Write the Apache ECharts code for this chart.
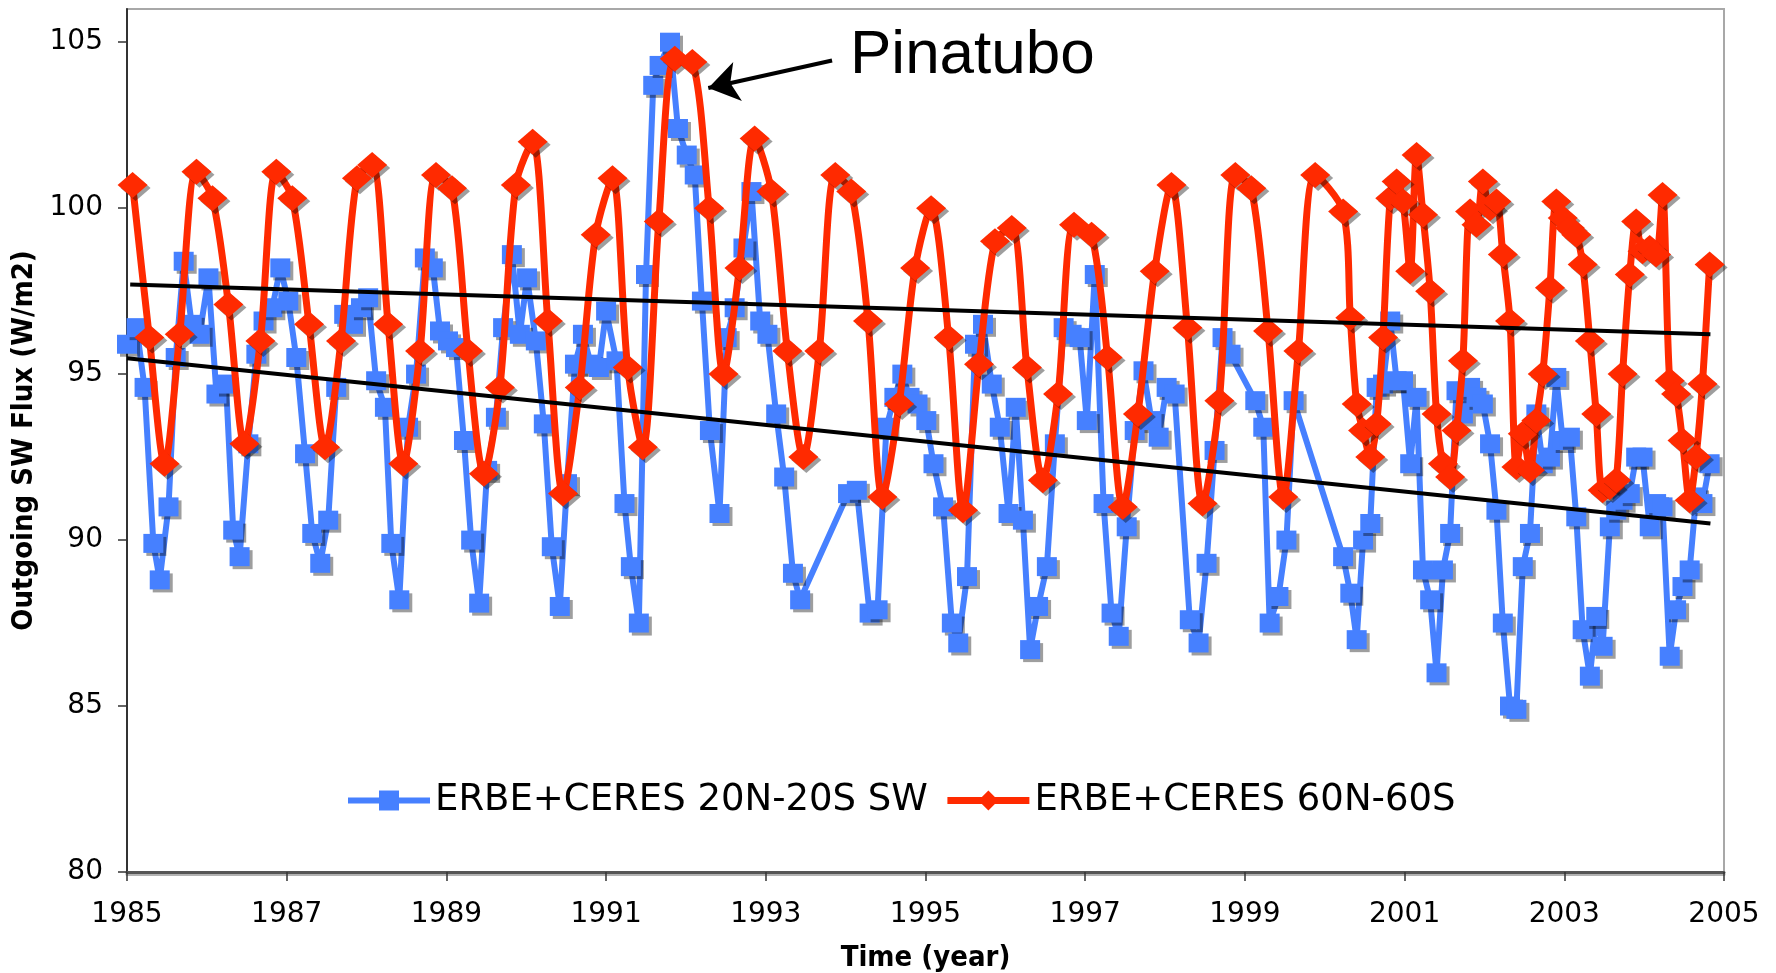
<!DOCTYPE html>
<html><head><meta charset="utf-8">
<script src="https://cdn.jsdelivr.net/npm/echarts@6/dist/echarts.min.js"></script>
<style>html,body{margin:0;padding:0;background:#fff}#c{width:1776px;height:973px}</style>
</head><body><div id="c"></div>
<script>
// ---------- data ----------
const seriesNames = ['ERBE+CERES 20N-20S SW', 'ERBE+CERES 60N-60S'];
const xTicks = [1985, 1987, 1989, 1991, 1993, 1995, 1997, 1999, 2001, 2003, 2005];
const yTicks = [80, 85, 90, 95, 100, 105];
const xName = 'Time (year)';
const yName = 'Outgoing SW Flux (W/m2)';
const annotation = 'Pinatubo';
const arrowFrom = [1993.83, 104.45];
const arrowTo = [1992.28, 103.62];

// ERBE era, 20N-20S (36-day means)
const erbeTropicsYears = [
1985.00,1985.12,1985.22,1985.33,1985.41,1985.52,1985.61,1985.71,1985.81,1985.91,
1986.02,1986.12,1986.24,1986.33,1986.41,1986.52,1986.62,1986.71,1986.82,1986.92,
1987.02,1987.12,1987.23,1987.32,1987.42,1987.52,1987.62,1987.72,1987.83,1987.93,
1988.02,1988.12,1988.23,1988.31,1988.41,1988.52,1988.62,1988.73,1988.83,1988.92,
1989.02,1989.12,1989.22,1989.31,1989.41,1989.51,1989.62,1989.71,1989.82,1989.92,
1990.01,1990.12,1990.22,1990.32,1990.42,1990.51,1990.61,1990.71,1990.81,1990.91,
1991.00,1991.13,1991.23,1991.31,1991.41,1991.50,1991.59,1991.67,1991.80,1991.90,
1992.01,1992.11,1992.20,1992.30,1992.42,1992.51,1992.61,1992.72,1992.82,1992.93,
1993.02,1993.13,1993.23,1993.34,1993.43,
1994.03,1994.14,1994.30,1994.40,1994.51,1994.61,1994.71,1994.80,1994.90,
1995.01,1995.10,1995.22,1995.33,1995.41,1995.52,1995.62,1995.72,1995.83,1995.93,
1996.04,1996.13,1996.22,1996.31,1996.41,1996.52,1996.62,1996.73,1996.83,1996.93,
1997.02,1997.12,1997.23,1997.33,1997.42,1997.52,1997.62,1997.73,1997.83,1997.92,
1998.02,1998.12,1998.31,1998.42,1998.52,1998.62,1998.72,1998.82,
1999.13,1999.23,1999.31,1999.42,1999.52,1999.61];
const erbeTropicsFlux = [
95.9,96.4,94.6,89.9,88.8,91.0,95.5,98.4,96.5,96.2,
97.9,94.4,94.7,90.3,89.5,92.9,95.6,96.6,97.0,98.2,
97.2,95.5,92.6,90.2,89.3,90.6,94.6,96.8,96.5,97.0,
97.3,94.8,94.0,89.9,88.2,93.4,95.0,98.5,98.2,96.3,
96.0,95.8,93.0,90.0,88.1,92.1,93.7,96.4,98.6,96.2,
97.9,96.0,93.5,89.8,88.0,91.7,95.3,96.2,95.3,95.2,
96.9,95.4,91.1,89.2,87.5,98.0,103.7,104.3,105.0,102.4,
101.6,101.0,97.2,93.3,90.8,96.1,97.0,98.8,100.5,96.6,
96.2,93.8,91.9,89.0,88.2,
91.4,91.5,87.8,87.9,93.4,94.3,95.0,94.3,94.1,
93.6,92.3,91.0,87.5,86.9,88.9,95.9,96.5,94.7,93.4,
90.8,94.0,90.6,86.7,88.0,89.2,92.9,96.4,96.2,96.1,
93.6,98.0,91.1,87.8,87.1,90.4,93.3,95.1,93.6,93.1,
94.6,94.4,87.6,86.9,89.3,92.7,96.1,95.6,
94.2,93.4,87.5,88.3,90.0,94.2];

// ERBE era, 60N-60S (72-day means)
const erbeNearGlobalYears = [
1985.07,1985.28,1985.47,1985.66,1985.87,1986.07,1986.27,1986.47,1986.67,1986.87,
1987.07,1987.28,1987.48,1987.68,1987.88,1988.07,1988.27,1988.46,1988.67,1988.87,
1989.07,1989.27,1989.47,1989.67,1989.87,1990.08,1990.27,1990.46,1990.67,1990.87,
1991.08,1991.27,1991.46,1991.66,1991.86,1992.08,1992.29,1992.47,1992.67,1992.86,
1993.07,1993.27,1993.47,1993.67,1993.87,1994.07,1994.28,1994.46,1994.67,1994.87,
1995.07,1995.29,1995.47,1995.67,1995.87,1996.08,1996.27,1996.47,1996.66,1996.86,
1997.08,1997.28,1997.47,1997.66,1997.87,1998.08,1998.28,1998.47,1998.68,1998.88,
1999.08,1999.29,1999.48,1999.67,1999.88];
const erbeNearGlobalFlux = [
100.7,96.1,92.3,96.2,101.1,100.3,97.1,92.9,96.0,101.1,
100.3,96.5,92.8,96.0,100.9,101.3,96.5,92.3,95.7,101.0,
100.6,95.7,92.0,94.6,100.7,102.0,96.6,91.4,94.6,99.2,
100.9,95.2,92.8,99.6,104.5,104.4,100.0,95.0,98.2,102.1,
100.5,95.7,92.5,95.7,101.0,100.5,96.6,91.3,94.1,98.2,
100.0,96.1,90.9,95.3,99.0,99.4,95.2,91.8,94.4,99.5,
99.2,95.5,91.0,93.8,98.1,100.7,96.4,91.1,94.2,101.0,
100.6,96.3,91.3,95.7,101.0];

// CERES era, monthly
const ceresYears = [
2000.23,2000.32,2000.40,2000.48,2000.57,2000.65,2000.73,2000.82,2000.90,2000.98,
2001.07,2001.15,2001.23,2001.32,2001.40,2001.48,2001.57,2001.65,2001.73,2001.82,2001.90,2001.98,
2002.07,2002.15,2002.23,2002.32,2002.40,2002.48,2002.57,2002.65,2002.73,2002.82,2002.90,2002.98,
2003.07,2003.15,2003.23,2003.32,2003.40,2003.48,2003.57,2003.65,2003.73,2003.82,2003.90,2003.98,
2004.07,2004.15,2004.23,2004.32,2004.40,2004.48,2004.57,2004.65,2004.73,2004.82];
const ceresTropicsFlux = [
89.5,88.4,87.0,90.0,90.5,94.6,94.7,96.6,94.8,94.8,
92.3,94.3,89.1,88.2,86.0,89.1,90.2,94.5,93.8,94.6,94.3,94.1,
92.9,90.9,87.5,85.0,84.9,89.2,90.2,93.8,92.3,92.5,94.9,93.0,
93.1,90.7,87.3,85.9,87.7,86.8,90.4,90.9,91.2,91.4,92.5,92.5,
90.4,91.1,91.0,86.5,87.9,88.6,89.1,91.3,91.1,92.3];
const ceresNearGlobalFlux = [
99.9,96.7,94.1,93.3,92.5,93.5,96.1,100.3,100.8,100.2,
98.1,101.6,99.8,97.5,93.8,92.3,91.9,93.3,95.4,99.9,99.5,100.8,
100.0,100.2,98.6,96.6,92.2,93.2,92.1,93.6,95.0,97.6,100.2,99.7,
99.4,99.2,98.3,96.0,93.8,91.5,91.6,91.8,95.0,98.0,99.6,98.7,
98.8,98.6,100.4,94.8,94.4,93.0,91.2,92.5,94.7,98.3];

// Trend lines (start / end)
const upperTrendYears = [1985.04, 2004.83];
const upperTrendFlux = [97.70, 96.20];
const lowerTrendYears = [1985.00, 2004.83];
const lowerTrendFlux = [95.48, 90.50];

// ---------- build ----------
const pairs = (xs, ys) => xs.map((x, i) => [x, ys[i]]);
const tropics = pairs(erbeTropicsYears.concat(ceresYears), erbeTropicsFlux.concat(ceresTropicsFlux));
const nearGlobal = pairs(erbeNearGlobalYears.concat(ceresYears), erbeNearGlobalFlux.concat(ceresNearGlobalFlux));

const shadow = { shadowColor: 'rgba(0,0,0,0.38)', shadowBlur: 0, shadowOffsetX: 3, shadowOffsetY: 3 };
const tickFont = { fontFamily: '"DejaVu Sans", Verdana, sans-serif', fontSize: 28, color: '#000' };
const nameFont = { fontFamily: '"DejaVu Sans Condensed", "DejaVu Sans", sans-serif', fontWeight: 'bold', fontSize: 29, color: '#000' };

const chart = echarts.init(document.getElementById('c'), null, { renderer: 'canvas' });
chart.setOption({
  animation: false,
  backgroundColor: '#fff',
  grid: { left: 127, right: 52, top: 9, bottom: 101, outerBoundsMode: 'none', containLabel: false,
          show: true, borderColor: '#a8a8a8', borderWidth: 2, backgroundColor: '#fff' },
  xAxis: {
    type: 'value', min: 1985, max: 2005, interval: 2,
    splitLine: { show: false },
    axisLine: { show: true, onZero: false, lineStyle: { color: '#555', width: 3, shadowColor: 'rgba(0,0,0,0.3)', shadowOffsetY: 2 } },
    axisTick: { show: true, inside: false, length: 9, customValues: xTicks, lineStyle: { color: '#333', width: 1.5 } },
    axisLabel: { ...tickFont, margin: 29, customValues: xTicks, formatter: v => String(v) },
    name: xName, nameLocation: 'middle', nameGap: 72, nameTextStyle: nameFont
  },
  yAxis: {
    type: 'value', min: 80, max: 106, interval: 5,
    splitLine: { show: false },
    axisLine: { show: true, onZero: false, lineStyle: { color: '#333', width: 2 } },
    axisTick: { show: true, inside: false, length: 9, customValues: yTicks, lineStyle: { color: '#333', width: 1.5 } },
    axisLabel: { ...tickFont, margin: 24, customValues: yTicks, formatter: v => String(v) },
    name: yName, nameLocation: 'middle', nameGap: 74, nameRotate: 90, nameTextStyle: nameFont
  },
  legend: {
    left: 340, top: 777, itemWidth: 82, itemHeight: 25, itemGap: 16,
    lineStyle: { width: 'inherit' },
    textStyle: { fontFamily: '"DejaVu Sans", Verdana, sans-serif', fontSize: 37, color: '#000' },
    data: seriesNames
  },
  graphic: [{
    type: 'text', left: 850, top: 25, silent: true,
    style: { text: annotation, font: '62px "Liberation Sans", Arial, sans-serif', fill: '#000' }
  }],
  series: [
    {
      name: seriesNames[0], type: 'line', data: tropics, z: 2, clip: false,
      symbol: 'rect', symbolSize: [20, 19], showAllSymbol: true,
      itemStyle: { color: '#4680ff', ...shadow },
      lineStyle: { color: '#4680ff', width: 6 }
    },
    {
      name: seriesNames[1], type: 'line', data: nearGlobal, z: 3, clip: false,
      symbol: 'diamond', symbolSize: [30, 26], showAllSymbol: true, smooth: 0.3,
      itemStyle: { color: '#ff2a00', ...shadow },
      lineStyle: { color: '#ff2a00', width: 7 }
    },
    {
      name: 'upperTrend', type: 'line', data: pairs(upperTrendYears, upperTrendFlux), z: 4,
      symbol: 'none', lineStyle: { color: '#000', width: 4 }, silent: true,
      markLine: {
        silent: true, symbol: ['none', 'arrow'], symbolSize: 30,
        label: { show: false }, lineStyle: { color: '#000', width: 4, type: 'solid' },
        data: [[{ coord: arrowFrom }, { coord: arrowTo }]]
      }
    },
    {
      name: 'lowerTrend', type: 'line', data: pairs(lowerTrendYears, lowerTrendFlux), z: 4,
      symbol: 'none', lineStyle: { color: '#000', width: 4 }, silent: true
    }
  ]
});
</script>
</body></html>
